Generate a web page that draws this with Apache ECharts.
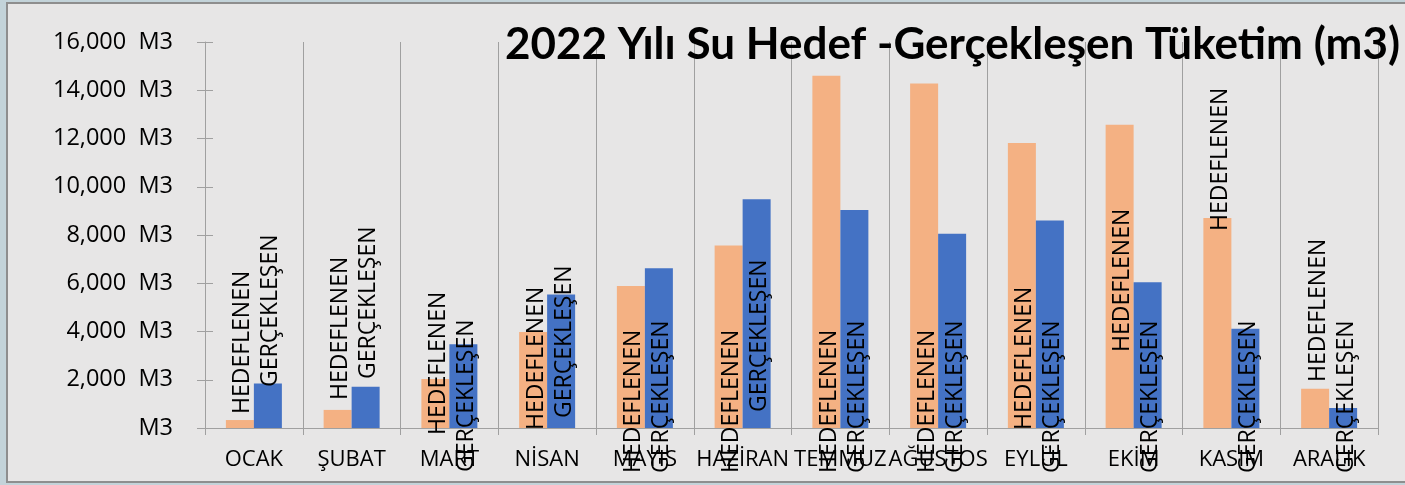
<!DOCTYPE html>
<html>
<head>
<meta charset="utf-8">
<script src="https://cdn.jsdelivr.net/npm/echarts@6/dist/echarts.min.js"></script>
<style>
html,body{margin:0;padding:0;width:1405px;height:485px;overflow:hidden;background:#c3d3d9;}
#frame{position:absolute;left:6px;top:2px;width:1399px;height:481px;background:#e7e6e6;
  border-left:2px solid #8e8e8e;border-top:2px solid #8e8e8e;border-bottom:2px solid #8e8e8e;box-sizing:border-box;}
#main{position:absolute;left:0;top:0;width:1405px;height:485px;}
</style>
</head>
<body>
<div id="frame"></div>
<div id="main"></div>
<script>
// aylar
var aylar = ['OCAK','ŞUBAT','MART','NİSAN','MAYIS','HAZİRAN','TEMMUZ','AĞUSTOS','EYLÜL','EKİM','KASIM','ARALIK'];
// hedeflenen tuketim (m3)
var hedeflenen = [330, 750, 2030, 3980, 5890, 7560, 14600, 14280, 11810, 12570, 8700, 1630];
// gerceklesen tuketim (m3)
var gerceklesen = [1840, 1710, 3470, 5530, 6620, 9480, 9040, 8050, 8600, 6040, 4110, 830];
var yMin = 0, yMax = 16000, yStep = 2000;

// etiketlerin eksenden kaydirma miktari (px), excel'deki elle tasinmis halleri
var kaydirH = [14, 28, -7, -2, -45, -45, -45, -45, -2, 76, 197, 46];
var kaydirG = [41, 49, -44, 10, -45, 16, -45, -45, -45, -45, -45, -45];

var yazi = 'Open Sans';

function etiketli(vals, kaydir){
    var arr = [];
    for(var i=0;i<vals.length;i++){
        arr.push({
            value: vals[i],
            label: {offset: [kaydir[i], 3]}
        });
    }
    return arr;
}

var etiket = {
    show: true,
    position: 'insideBottom',
    distance: 0,
    rotate: 90,
    align: 'left',
    verticalAlign: 'middle',
    color: '#000',
    fontFamily: yazi,
    fontSize: 23,
    formatter: '{a}'
};

var myChart = echarts.init(document.getElementById('main'));
myChart.setOption({
    backgroundColor: 'transparent',
    animation: false,
    title: {
        text: '2022 Yılı Su Hedef -Gerçekleşen Tüketim (m3)',
        right: 0,
        top: 18,
        textStyle: {fontFamily: 'Lato', fontWeight: 'bold', fontSize: 44, color: '#000'}
    },
    grid: {left: 205, right: 27, top: 42, bottom: 57},
    xAxis: {
        type: 'category',
        data: aylar,
        axisLine: {lineStyle: {color: '#a0a0a0', width: 1}},
        axisTick: {show: true, length: 7, lineStyle: {color: '#a0a0a0'}},
        splitLine: {show: true, lineStyle: {color: '#a0a0a0', width: 1}},
        axisLabel: {interval: 0, color: '#000', fontFamily: yazi, fontSize: 22, margin: 21}
    },
    yAxis: [{
        type: 'value',
        min: yMin, max: yMax, interval: yStep,
        axisLine: {show: true, lineStyle: {color: '#a0a0a0', width: 1}},
        axisTick: {show: true, length: 8, lineStyle: {color: '#a0a0a0'}},
        splitLine: {show: false},
        axisLabel: {
            color: '#000', fontFamily: yazi, fontSize: 23.5, margin: 32,
            formatter: function(v){
                if(v == 0){ return 'M3'; }
                return v.toLocaleString('en-US') + '  M3';
            }
        }
    },{
        type: 'value',
        position: 'left',
        min: yMin, max: yMax, interval: yStep,
        axisLine: {show: false},
        axisTick: {show: true, inside: true, length: 8, lineStyle: {color: '#a0a0a0'}},
        splitLine: {show: false},
        axisLabel: {show: false}
    }],
    series: [{
        name: 'HEDEFLENEN',
        type: 'bar',
        barWidth: 28,
        barGap: '0%',
        itemStyle: {color: '#f4b183'},
        label: etiket,
        data: etiketli(hedeflenen, kaydirH)
    },{
        name: 'GERÇEKLEŞEN',
        type: 'bar',
        barWidth: 28,
        barGap: '0%',
        itemStyle: {color: '#4472c4'},
        label: etiket,
        data: etiketli(gerceklesen, kaydirG)
    }]
});
</script>
</body>
</html>
